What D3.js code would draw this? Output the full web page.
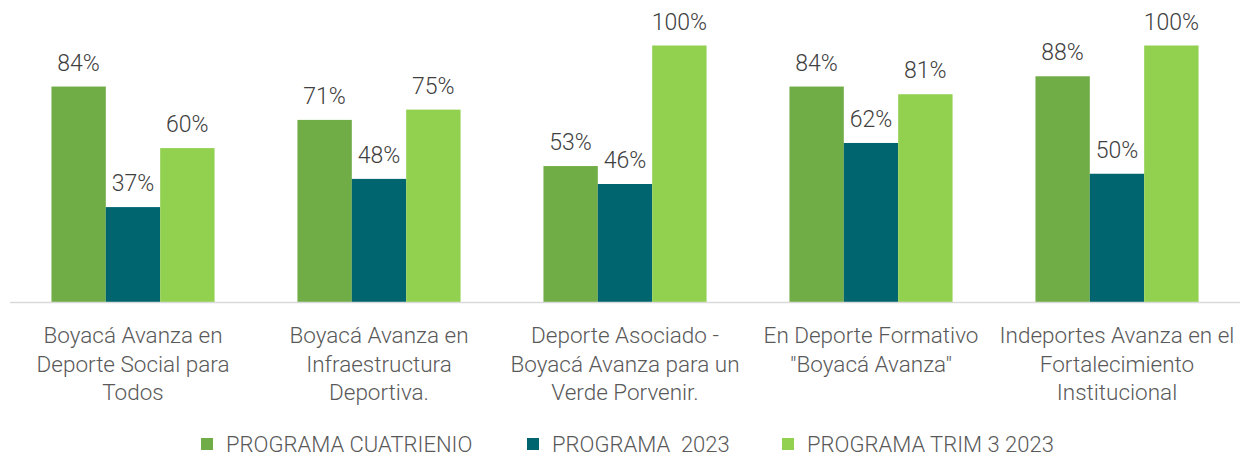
<!DOCTYPE html>
<html>
<head>
<meta charset="utf-8">
<script src="https://cdn.jsdelivr.net/npm/d3@7"></script>
<style>
  body { margin: 0; background: #fff; }
  text { font-family: Roboto, "Liberation Sans", sans-serif; font-weight: 300; }
</style>
</head>
<body>
<div id="chart"></div>
<script>
// Chart data
const categories = [
  ["Boyacá Avanza en", "Deporte Social para", "Todos"],
  ["Boyacá Avanza en", "Infraestructura", "Deportiva."],
  ["Deporte Asociado -", "Boyacá Avanza para un", "Verde Porvenir."],
  ["En Deporte Formativo", "\"Boyacá Avanza\""],
  ["Indeportes Avanza en el", "Fortalecimiento", "Institucional"]
];
const seriesNames = ["PROGRAMA CUATRIENIO", "PROGRAMA  2023", "PROGRAMA TRIM 3 2023"];
const cuatrienio = [0.84, 0.71, 0.53, 0.84, 0.88];
const prog2023 = [0.37, 0.48, 0.46, 0.62, 0.50];
const trim3 = [0.60, 0.75, 1.00, 0.81, 1.00];
const colors = ["#70AD47", "#00656F", "#92D050"];

const series = [cuatrienio, prog2023, trim3];
const width = 1250, height = 457;

const svg = d3.select("#chart")
  .append("svg")
  .attr("width", width)
  .attr("height", height);

// scales
const x0 = d3.scaleBand()
  .domain(d3.range(categories.length))
  .range([10, 1240])
  .paddingInner(0.337)
  .paddingOuter(0.1685);

const x1 = d3.scaleBand()
  .domain(d3.range(series.length))
  .range([0, x0.bandwidth()]);

const y = d3.scaleLinear()
  .domain([0, 1])
  .range([302, 45.5]);

// bars
const groups = svg.selectAll(".grp")
  .data(categories)
  .enter()
  .append("g")
  .attr("class", "grp")
  .attr("transform", (d, i) => `translate(${x0(i)},0)`);

groups.selectAll("rect")
  .data((d, i) => series.map((s, k) => ({ k: k, v: s[i] })))
  .enter()
  .append("rect")
  .attr("x", d => x1(d.k))
  .attr("y", d => y(d.v))
  .attr("width", x1.bandwidth())
  .attr("height", d => y(0) - y(d.v))
  .attr("fill", d => colors[d.k]);

groups.selectAll(".val")
  .data((d, i) => series.map((s, k) => ({ k: k, v: s[i] })))
  .enter()
  .append("text")
  .attr("class", "val")
  .attr("x", d => x1(d.k) + x1.bandwidth() / 2)
  .attr("y", d => y(d.v) - 16)
  .attr("text-anchor", "middle")
  .attr("font-size", 23)
  .attr("fill", "#404040")
  .text(d => d3.format(".0%")(d.v));

// axis line
svg.append("line")
  .attr("x1", 10).attr("x2", 1240)
  .attr("y1", y(0) + 0.5).attr("y2", y(0) + 0.5)
  .attr("stroke", "#d9d9d9")
  .attr("stroke-width", 1.5);

// category labels
const catLabels = svg.selectAll(".cat")
  .data(categories)
  .enter()
  .append("text")
  .attr("class", "cat")
  .attr("text-anchor", "middle")
  .attr("font-size", 22.5)
  .attr("fill", "#595959");

catLabels.selectAll("tspan")
  .data((d, i) => d.map(line => ({ line: line, i: i })))
  .enter()
  .append("tspan")
  .attr("x", d => x0(d.i) + x0.bandwidth() / 2)
  .attr("y", (d, j) => 343 + j * 28.5)
  .text(d => d.line);

// legend
const legendX = [201, 527, 782];
const legend = svg.selectAll(".leg")
  .data(seriesNames)
  .enter()
  .append("g")
  .attr("class", "leg")
  .attr("transform", (d, i) => `translate(${legendX[i]},0)`);

legend.append("rect")
  .attr("x", 0).attr("y", 438)
  .attr("width", 12).attr("height", 12)
  .attr("fill", (d, i) => colors[i]);

legend.append("text")
  .attr("x", 25).attr("y", 452)
  .attr("font-size", 22)
  .attr("fill", "#595959")
  .style("white-space", "pre")
  .text(d => d);
</script>
</body>
</html>
